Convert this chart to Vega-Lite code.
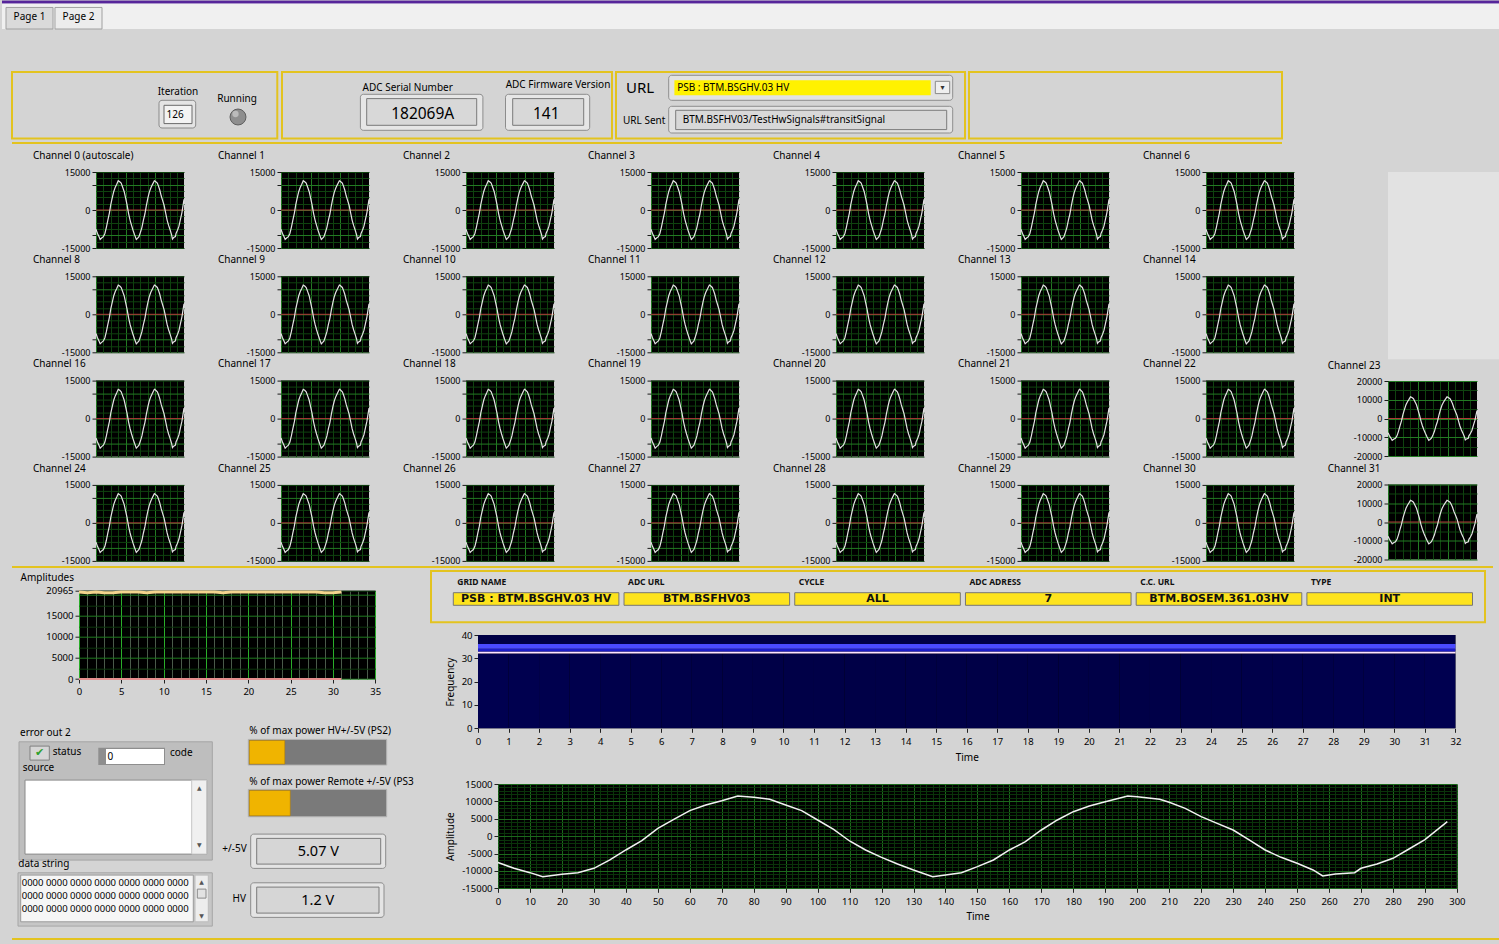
{
"$schema": "https://vega.github.io/schema/vega-lite/v6.json",
"background": "#d4d4d4",
"padding": 0,
"spacing": 0,
"config": {"view": {"stroke": null}, "font": "Noto Sans", "axis": {"labelFont": "Noto Sans", "titleFont": "Noto Sans", "labelColor": "#000000", "titleColor": "#000000", "titleFontWeight": "normal", "tickColor": "#222222", "labelOverlap": false}, "text": {"color": "#000000"}},
"datasets": {
"header": [{"id":"iter","w":"Iteration","value":"126"},{"id":"run","w":"Running","value":"off"},{"id":"serial","w":"ADC Serial Number","value":"182069A"},{"id":"fw","w":"ADC Firmware Version","value":"141"},{"id":"url","w":"URL","value":"PSB : BTM.BSGHV.03 HV"},{"id":"sent","w":"URL Sent","value":"BTM.BSFHV03/TestHwSignals#transitSignal"}],
"chlabels": [{"Channel 0 (autoscale)":"Channel 0 (autoscale)","Channel 1":"Channel 1","Channel 2":"Channel 2","Channel 3":"Channel 3","Channel 4":"Channel 4","Channel 5":"Channel 5","Channel 6":"Channel 6","Channel 8":"Channel 8","Channel 9":"Channel 9","Channel 10":"Channel 10","Channel 11":"Channel 11","Channel 12":"Channel 12","Channel 13":"Channel 13","Channel 14":"Channel 14","Channel 16":"Channel 16","Channel 17":"Channel 17","Channel 18":"Channel 18","Channel 19":"Channel 19","Channel 20":"Channel 20","Channel 21":"Channel 21","Channel 22":"Channel 22","Channel 23":"Channel 23","Channel 24":"Channel 24","Channel 25":"Channel 25","Channel 26":"Channel 26","Channel 27":"Channel 27","Channel 28":"Channel 28","Channel 29":"Channel 29","Channel 30":"Channel 30","Channel 31":"Channel 31"}],
"wave": [{"t":0,"v":-7600},{"t":5,"v":-9250},{"t":10,"v":-10500},{"t":14,"v":-11650},{"t":20,"v":-10970},{"t":25,"v":-10500},{"t":30,"v":-9250},{"t":35,"v":-6850},{"t":40,"v":-3980},{"t":45,"v":-1300},{"t":50,"v":2250},{"t":55,"v":4840},{"t":60,"v":7330},{"t":65,"v":8960},{"t":70,"v":10200},{"t":75,"v":11550},{"t":80,"v":11170},{"t":85,"v":10590},{"t":90,"v":8960},{"t":95,"v":7330},{"t":100,"v":4650},{"t":105,"v":1960},{"t":110,"v":-1390},{"t":115,"v":-3980},{"t":120,"v":-6090},{"t":125,"v":-8000},{"t":130,"v":-9730},{"t":136,"v":-11650},{"t":140,"v":-11170},{"t":145,"v":-10500},{"t":150,"v":-8770},{"t":155,"v":-6850},{"t":160,"v":-3980},{"t":165,"v":-1580},{"t":170,"v":1770},{"t":175,"v":4650},{"t":180,"v":7040},{"t":185,"v":8670},{"t":190,"v":9920},{"t":197,"v":11550},{"t":200,"v":11360},{"t":207,"v":10590},{"t":210,"v":9730},{"t":215,"v":8000},{"t":220,"v":5610},{"t":225,"v":3690},{"t":230,"v":1770},{"t":235,"v":-1100},{"t":240,"v":-3980},{"t":245,"v":-6090},{"t":250,"v":-7810},{"t":255,"v":-9730},{"t":258,"v":-11460},{"t":262,"v":-10880},{"t":268,"v":-10500},{"t":270,"v":-9250},{"t":275,"v":-8000},{"t":280,"v":-6370},{"t":285,"v":-3700},{"t":290,"v":-1000},{"t":297,"v":4170}],
"amp": [{"ch":0,"amp":20650,"min":0},{"ch":1,"amp":20480,"min":0},{"ch":2,"amp":20650,"min":0},{"ch":3,"amp":20480,"min":0},{"ch":4,"amp":20480,"min":0},{"ch":5,"amp":20650,"min":0},{"ch":6,"amp":20650,"min":0},{"ch":7,"amp":20650,"min":0},{"ch":8,"amp":20480,"min":0},{"ch":9,"amp":20650,"min":0},{"ch":10,"amp":20650,"min":0},{"ch":11,"amp":20650,"min":0},{"ch":12,"amp":20650,"min":0},{"ch":13,"amp":20650,"min":0},{"ch":14,"amp":20650,"min":0},{"ch":15,"amp":20650,"min":0},{"ch":16,"amp":20650,"min":0},{"ch":17,"amp":20480,"min":0},{"ch":18,"amp":20650,"min":0},{"ch":19,"amp":20650,"min":0},{"ch":20,"amp":20650,"min":0},{"ch":21,"amp":20650,"min":0},{"ch":22,"amp":20650,"min":0},{"ch":23,"amp":20650,"min":0},{"ch":24,"amp":20650,"min":0},{"ch":25,"amp":20650,"min":0},{"ch":26,"amp":20650,"min":0},{"ch":27,"amp":20650,"min":0},{"ch":28,"amp":20650,"min":0},{"ch":29,"amp":20480,"min":0},{"ch":30,"amp":20480,"min":0},{"ch":31,"amp":20650,"min":0}],
"spectrum": [{"t0":0,"t1":1,"f0":0,"f1":32.1,"p":0.24},{"t0":1,"t1":2,"f0":0,"f1":32.1,"p":0.22},{"t0":2,"t1":3,"f0":0,"f1":32.1,"p":0.2},{"t0":3,"t1":4,"f0":0,"f1":32.1,"p":0.17},{"t0":4,"t1":5,"f0":0,"f1":32.1,"p":0.14},{"t0":5,"t1":6,"f0":0,"f1":32.1,"p":0.11},{"t0":6,"t1":7,"f0":0,"f1":32.1,"p":0.08},{"t0":7,"t1":8,"f0":0,"f1":32.1,"p":0.06},{"t0":8,"t1":9,"f0":0,"f1":32.1,"p":0.045},{"t0":9,"t1":10,"f0":0,"f1":32.1,"p":0.035},{"t0":10,"t1":11,"f0":0,"f1":32.1,"p":0.03},{"t0":11,"t1":12,"f0":0,"f1":32.1,"p":0.025},{"t0":12,"t1":13,"f0":0,"f1":32.1,"p":0.02},{"t0":13,"t1":14,"f0":0,"f1":32.1,"p":0.02},{"t0":14,"t1":15,"f0":0,"f1":32.1,"p":0.02},{"t0":15,"t1":16,"f0":0,"f1":32.1,"p":0.02},{"t0":16,"t1":17,"f0":0,"f1":32.1,"p":0.02},{"t0":17,"t1":18,"f0":0,"f1":32.1,"p":0.02},{"t0":18,"t1":19,"f0":0,"f1":32.1,"p":0.02},{"t0":19,"t1":20,"f0":0,"f1":32.1,"p":0.025},{"t0":20,"t1":21,"f0":0,"f1":32.1,"p":0.03},{"t0":21,"t1":22,"f0":0,"f1":32.1,"p":0.035},{"t0":22,"t1":23,"f0":0,"f1":32.1,"p":0.045},{"t0":23,"t1":24,"f0":0,"f1":32.1,"p":0.06},{"t0":24,"t1":25,"f0":0,"f1":32.1,"p":0.08},{"t0":25,"t1":26,"f0":0,"f1":32.1,"p":0.1},{"t0":26,"t1":27,"f0":0,"f1":32.1,"p":0.12},{"t0":27,"t1":28,"f0":0,"f1":32.1,"p":0.14},{"t0":28,"t1":29,"f0":0,"f1":32.1,"p":0.17},{"t0":29,"t1":30,"f0":0,"f1":32.1,"p":0.2},{"t0":30,"t1":31,"f0":0,"f1":32.1,"p":0.22},{"t0":31,"t1":32,"f0":0,"f1":32.1,"p":0.24},{"t0":0,"t1":32,"f0":32.1,"f1":32.9,"p":1},{"t0":0,"t1":32,"f0":32.9,"f1":34.1,"p":0.62},{"t0":0,"t1":32,"f0":34.1,"f1":36.1,"p":0.85},{"t0":0,"t1":32,"f0":36.1,"f1":40,"p":0}],
"grid": [{"col":"GRID NAME","val":"PSB : BTM.BSGHV.03 HV"},{"col":"ADC URL","val":"BTM.BSFHV03"},{"col":"CYCLE","val":"ALL"},{"col":"ADC ADRESS","val":"7"},{"col":"C.C. URL","val":"BTM.BOSEM.361.03HV"},{"col":"TYPE","val":"INT"}],
"widgets": [{"id":"err","w":"error out 2"},{"id":"status","w":"status","value":"✔"},{"id":"code","w":"code","value":"0"},{"id":"source","w":"source","value":""},{"id":"data","w":"data string","value":"0000 0000 0000 0000 0000 0000 0000\n0000 0000 0000 0000 0000 0000 0000\n0000 0000 0000 0000 0000 0000 0000"},{"id":"ps2","w":"% of max power HV+/-5V (PS2)","pct":26},{"id":"ps3","w":"% of max power Remote +/-5V (PS3","pct":30},{"id":"v5","w":"+/-5V","value":"5.07 V"},{"id":"hv","w":"HV","value":"1.2 V"}]
},
"vconcat": [
{
 "width": 1499, "height": 28,
 "view": {"fill": "#f0f0f0", "stroke": null},
 "data": {"values": [{"tab": "Page 1"}, {"tab": "Page 2"}]},
 "layer": [
  {"mark": {"type": "rule", "color": "#56259a", "strokeWidth": 2.5},
   "encoding": {"y": {"datum": 1.25, "type": "quantitative", "scale": {"domain": [0, 1.3], "nice": false, "zero": false}, "axis": null}}},
  {"mark": {"type": "rect", "stroke": "#a0a0a0", "strokeWidth": 1},
   "encoding": {
     "x": {"field": "tab", "type": "nominal", "scale": {"type": "band", "domain": ["Page 1", "Page 2"], "range": [4, 100], "paddingInner": 0.04, "paddingOuter": 0}, "axis": null},
     "y": {"datum": 1, "type": "quantitative", "axis": null}, "y2": {"datum": 0},
     "fill": {"field": "tab", "type": "nominal", "scale": {"domain": ["Page 1", "Page 2"], "range": ["#dadada", "#ececec"]}, "legend": null}}},
  {"mark": {"type": "text", "fontSize": 10, "color": "#000000"},
   "encoding": {"x": {"field": "tab", "type": "nominal", "axis": null}, "y": {"datum": 0.55, "type": "quantitative", "axis": null}, "text": {"field": "tab"}}}
 ]
},
{"width": 1, "height": 40.7, "data": {"values": []}, "mark": "point"},
{
 "hconcat": [
  {"width": 7, "height": 1, "data": {"values": []}, "mark": "point"},
  {
   "width": 265.3, "height": 66.6,
   "view": {"fill": "#d4d4d4", "stroke": "#e3c31f", "strokeWidth": 2},
   "data": {"name": "header"},
   "layer": [
    {"transform": [{"filter": "datum.id === 'iter'"}], "mark": {"type": "text", "fontSize": 10},
     "encoding": {"x": {"datum": 166, "type": "quantitative", "scale": {"domain": [0, 265.3], "nice": false, "zero": false}, "axis": null}, "y": {"datum": 20, "type": "quantitative", "scale": {"domain": [0, 66.6], "nice": false, "zero": false, "reverse": true}, "axis": null}, "text": {"field": "w"}}},
    {"transform": [{"filter": "datum.id === 'iter'"}], "mark": {"type": "rect", "fill": "#e4e4e4", "stroke": "#8a8a8a", "cornerRadius": 3},
     "encoding": {"x": {"datum": 147, "axis": null}, "x2": {"datum": 183.7}, "y": {"datum": 28.3, "axis": null}, "y2": {"datum": 56}}},
    {"transform": [{"filter": "datum.id === 'iter'"}], "mark": {"type": "rect", "fill": "#f3f3f3", "stroke": "#6a6a6a"},
     "encoding": {"x": {"datum": 152, "axis": null}, "x2": {"datum": 180}, "y": {"datum": 33.3, "axis": null}, "y2": {"datum": 51.6}}},
    {"transform": [{"filter": "datum.id === 'iter'"}], "mark": {"type": "text", "fontSize": 10, "align": "left"},
     "encoding": {"x": {"datum": 154.5, "axis": null}, "y": {"datum": 42.5, "axis": null}, "text": {"field": "value"}}},
    {"transform": [{"filter": "datum.id === 'run'"}], "mark": {"type": "text", "fontSize": 10},
     "encoding": {"x": {"datum": 225, "axis": null}, "y": {"datum": 26.6, "axis": null}, "text": {"field": "w"}}},
    {"transform": [{"filter": "datum.id === 'run'"}], "mark": {"type": "circle", "size": 254, "opacity": 1, "stroke": "#5e5e5e", "strokeWidth": 1, "color": "#8e8e8e"},
     "encoding": {"x": {"datum": 226, "axis": null}, "y": {"datum": 45, "axis": null}}},
    {"transform": [{"filter": "datum.id === 'run'"}], "mark": {"type": "circle", "size": 40, "opacity": 0.6, "color": "#d8d8d8"},
     "encoding": {"x": {"datum": 223.5, "axis": null}, "y": {"datum": 42, "axis": null}}}
   ]
  },
  {
   "width": 330, "height": 66.6,
   "view": {"fill": "#d4d4d4", "stroke": "#e3c31f", "strokeWidth": 2},
   "data": {"name": "header"},
   "layer": [
    {"transform": [{"filter": "datum.id === 'serial'"}], "mark": {"type": "text", "fontSize": 10},
     "encoding": {"x": {"datum": 125.7, "type": "quantitative", "scale": {"domain": [0, 330], "nice": false, "zero": false}, "axis": null}, "y": {"datum": 15.6, "type": "quantitative", "scale": {"domain": [0, 66.6], "nice": false, "zero": false, "reverse": true}, "axis": null}, "text": {"field": "w"}}},
    {"transform": [{"filter": "datum.id === 'serial'"}], "mark": {"type": "rect", "fill": "#e6e6e6", "stroke": "#8c8c8c", "cornerRadius": 3},
     "encoding": {"x": {"datum": 78.4, "axis": null}, "x2": {"datum": 200.9}, "y": {"datum": 22.3, "axis": null}, "y2": {"datum": 58.3}}},
    {"transform": [{"filter": "datum.id === 'serial'"}], "mark": {"type": "rect", "fill": "#d8d8d8", "stroke": "#7a7a7a"},
     "encoding": {"x": {"datum": 84.7, "axis": null}, "x2": {"datum": 194.7}, "y": {"datum": 26.6, "axis": null}, "y2": {"datum": 53.3}}},
    {"transform": [{"filter": "datum.id === 'serial'"}], "mark": {"type": "text", "fontSize": 15.5},
     "encoding": {"x": {"datum": 140.7, "axis": null}, "y": {"datum": 41.6, "axis": null}, "text": {"field": "value"}}},
    {"transform": [{"filter": "datum.id === 'fw'"}], "mark": {"type": "text", "fontSize": 10},
     "encoding": {"x": {"datum": 276, "axis": null}, "y": {"datum": 13.3, "axis": null}, "text": {"field": "w"}}},
    {"transform": [{"filter": "datum.id === 'fw'"}], "mark": {"type": "rect", "fill": "#e6e6e6", "stroke": "#8c8c8c", "cornerRadius": 3},
     "encoding": {"x": {"datum": 223.5, "axis": null}, "x2": {"datum": 307.7}, "y": {"datum": 22.3, "axis": null}, "y2": {"datum": 58.3}}},
    {"transform": [{"filter": "datum.id === 'fw'"}], "mark": {"type": "rect", "fill": "#d8d8d8", "stroke": "#7a7a7a"},
     "encoding": {"x": {"datum": 230.7, "axis": null}, "x2": {"datum": 301.7}, "y": {"datum": 26.6, "axis": null}, "y2": {"datum": 53.3}}},
    {"transform": [{"filter": "datum.id === 'fw'"}], "mark": {"type": "text", "fontSize": 15.5},
     "encoding": {"x": {"datum": 264.2, "axis": null}, "y": {"datum": 41.6, "axis": null}, "text": {"field": "value"}}}
   ]
  },
  {
   "width": 349, "height": 66.6,
   "view": {"fill": "#d4d4d4", "stroke": "#e3c31f", "strokeWidth": 2},
   "data": {"name": "header"},
   "layer": [
    {"transform": [{"filter": "datum.id === 'url'"}], "mark": {"type": "text", "fontSize": 15},
     "encoding": {"x": {"datum": 24, "type": "quantitative", "scale": {"domain": [0, 349], "nice": false, "zero": false}, "axis": null}, "y": {"datum": 16.3, "type": "quantitative", "scale": {"domain": [0, 66.6], "nice": false, "zero": false, "reverse": true}, "axis": null}, "text": {"field": "w"}}},
    {"transform": [{"filter": "datum.id === 'url'"}], "mark": {"type": "rect", "fill": "#e2e2e2", "stroke": "#8e8e8e", "cornerRadius": 3},
     "encoding": {"x": {"datum": 52.7, "axis": null}, "x2": {"datum": 336.7}, "y": {"datum": 3.3, "axis": null}, "y2": {"datum": 28.3}}},
    {"transform": [{"filter": "datum.id === 'url'"}], "mark": {"type": "rect", "fill": "#fff200"},
     "encoding": {"x": {"datum": 58.4, "axis": null}, "x2": {"datum": 314.7}, "y": {"datum": 8.3, "axis": null}, "y2": {"datum": 23.3}}},
    {"transform": [{"filter": "datum.id === 'url'"}], "mark": {"type": "rect", "fill": "#efefef", "stroke": "#8a8a8a"},
     "encoding": {"x": {"datum": 319.3, "axis": null}, "x2": {"datum": 333.7}, "y": {"datum": 9.3, "axis": null}, "y2": {"datum": 21.6}}},
    {"transform": [{"filter": "datum.id === 'url'"}], "mark": {"type": "text", "fontSize": 8, "font": "DejaVu Sans", "color": "#333333", "text": "▾"},
     "encoding": {"x": {"datum": 326.5, "axis": null}, "y": {"datum": 15.6, "axis": null}}},
    {"transform": [{"filter": "datum.id === 'url'"}], "mark": {"type": "text", "fontSize": 10, "align": "left"},
     "encoding": {"x": {"datum": 61.2, "axis": null}, "y": {"datum": 15.8, "axis": null}, "text": {"field": "value"}}},
    {"transform": [{"filter": "datum.id === 'sent'"}], "mark": {"type": "text", "fontSize": 10},
     "encoding": {"x": {"datum": 28.2, "axis": null}, "y": {"datum": 49, "axis": null}, "text": {"field": "w"}}},
    {"transform": [{"filter": "datum.id === 'sent'"}], "mark": {"type": "rect", "fill": "#e2e2e2", "stroke": "#8e8e8e", "cornerRadius": 3},
     "encoding": {"x": {"datum": 52.7, "axis": null}, "x2": {"datum": 336.7}, "y": {"datum": 34.3, "axis": null}, "y2": {"datum": 61}}},
    {"transform": [{"filter": "datum.id === 'sent'"}], "mark": {"type": "rect", "fill": "#d8d8d8", "stroke": "#7c7c7c"},
     "encoding": {"x": {"datum": 59.7, "axis": null}, "x2": {"datum": 330.7}, "y": {"datum": 38.3, "axis": null}, "y2": {"datum": 57.6}}},
    {"transform": [{"filter": "datum.id === 'sent'"}], "mark": {"type": "text", "fontSize": 10, "align": "left"},
     "encoding": {"x": {"datum": 66.7, "axis": null}, "y": {"datum": 48, "axis": null}, "text": {"field": "value"}}}
   ]
  },
  {"width": 313, "height": 66.6, "view": {"fill": "#d4d4d4", "stroke": "#e3c31f", "strokeWidth": 2}, "data": {"values": []}, "mark": "point"}
 ],
 "spacing": 2
},
{"width": 1, "height": 2, "data": {"values": []}, "mark": "point"},
{"hconcat": [
  {"width": 9, "height": 2, "data": {"values": []}, "mark": "point"},
  {"width": 1270, "height": 2, "view": {"fill": "#e3c31f", "stroke": null}, "data": {"values": []}, "mark": "point"}
 ], "spacing": 1},
{"width": 1, "height": 5.2, "data": {"values": []}, "mark": "point"},
{
 "hconcat": [
  {"width": 1, "height": 1, "data": {"values": []}, "mark": "point"},
  {
   "repeat": ["Channel 0 (autoscale)","Channel 1","Channel 2","Channel 3","Channel 4","Channel 5","Channel 6","Channel 8","Channel 9","Channel 10","Channel 11","Channel 12","Channel 13","Channel 14","Channel 16","Channel 17","Channel 18","Channel 19","Channel 20","Channel 21","Channel 22","Channel 24","Channel 25","Channel 26","Channel 27","Channel 28","Channel 29","Channel 30"],
   "columns": 7,
   "spacing": {"row": 1.3, "column": 31},
   "spec": {
    "width": 88, "height": 76,
    "view": {"fill": "#000000", "stroke": null},
    "layer": [
     {"data": {"name": "chlabels"}, "mark": {"type": "rule", "color": "#b03838", "strokeWidth": 1},
      "encoding": {"y": {"datum": 0, "type": "quantitative", "axis": {"values": [-15000,-12500,-10000,-7500,-5000,-2500,0,2500,5000,7500,10000,12500,15000], "title": null, "domain": false, "tickSize": 4, "tickColor": "#1a1a1a", "tickOpacity": {"condition": {"test": "datum.value % 10000 === 0 || abs(datum.value) === 15000", "value": 1}, "value": 0}, "labelExpr": "abs(datum.value) === 15000 || datum.value === 0 ? '' + datum.value : ''", "labelFontSize": 9, "labelPadding": 2, "labelOverlap": false, "labelFlush": false, "grid": true, "gridColor": {"condition": {"test": "datum.value % 10000 === 0", "value": "#237a23"}, "value": "#0f420f"}}}}},
     {"data": {"name": "wave"}, "mark": {"type": "line", "color": "#e4e4e4", "strokeWidth": 1.2},
      "encoding": {
       "x": {"field": "t", "type": "quantitative", "scale": {"domain": [0, 297], "nice": false, "zero": false}, "axis": {"values": [0,25,50,75,100,125,150,175,200,225,250,275], "labels": false, "ticks": false, "domain": false, "title": null, "grid": true, "gridColor": {"condition": {"test": "datum.value % 100 === 0", "value": "#237a23"}, "value": "#0f420f"}}},
       "y": {"field": "v", "type": "quantitative", "scale": {"domain": [-15000, 15000], "nice": false, "zero": false}, "axis": {"values": [-15000,-12500,-10000,-7500,-5000,-2500,0,2500,5000,7500,10000,12500,15000], "title": null, "domain": false, "tickSize": 4, "tickColor": "#1a1a1a", "tickOpacity": {"condition": {"test": "datum.value % 10000 === 0 || abs(datum.value) === 15000", "value": 1}, "value": 0}, "labelExpr": "abs(datum.value) === 15000 || datum.value === 0 ? '' + datum.value : ''", "labelFontSize": 9, "labelPadding": 2, "labelOverlap": false, "labelFlush": false, "grid": true, "gridColor": {"condition": {"test": "datum.value % 10000 === 0", "value": "#237a23"}, "value": "#0f420f"}}}}},
     {"data": {"name": "chlabels"}, "mark": {"type": "text", "align": "left", "baseline": "middle", "fontSize": 10, "color": "#000000"},
      "encoding": {"x": {"datum": -212.6, "type": "quantitative", "axis": {"values": [0,25,50,75,100,125,150,175,200,225,250,275], "labels": false, "ticks": false, "domain": false, "title": null, "grid": true, "gridColor": {"condition": {"test": "datum.value % 100 === 0", "value": "#237a23"}, "value": "#0f420f"}}}, "y": {"datum": 21400, "type": "quantitative", "axis": {"values": [-15000,-12500,-10000,-7500,-5000,-2500,0,2500,5000,7500,10000,12500,15000], "title": null, "domain": false, "tickSize": 4, "tickColor": "#1a1a1a", "tickOpacity": {"condition": {"test": "datum.value % 10000 === 0 || abs(datum.value) === 15000", "value": 1}, "value": 0}, "labelExpr": "abs(datum.value) === 15000 || datum.value === 0 ? '' + datum.value : ''", "labelFontSize": 9, "labelPadding": 2, "labelOverlap": false, "labelFlush": false, "grid": true, "gridColor": {"condition": {"test": "datum.value % 10000 === 0", "value": "#237a23"}, "value": "#0f420f"}}}, "text": {"field": {"repeat": "repeat"}, "type": "nominal"}}}
    ]
   }
  },
  {
   "vconcat": [
    {"width": 113, "height": 187.3, "view": {"fill": "#e2e2e2", "stroke": null}, "data": {"values": []}, "mark": "point"},
    {
     "repeat": ["Channel 23", "Channel 31"],
     "columns": 1,
     "spacing": {"row": 2.5, "column": 10},
     "spec": {
      "width": 89, "height": 75,
      "view": {"fill": "#000000", "stroke": null},
      "layer": [
       {"data": {"name": "chlabels"}, "mark": {"type": "rule", "color": "#b03838", "strokeWidth": 1},
        "encoding": {"y": {"datum": 0, "type": "quantitative", "axis": {"values": [-20000,-15000,-10000,-5000,0,5000,10000,15000,20000], "title": null, "domain": false, "tickSize": 4, "tickColor": "#1a1a1a", "tickOpacity": {"condition": {"test": "datum.value % 10000 === 0", "value": 1}, "value": 0}, "labelExpr": "datum.value % 10000 === 0 ? '' + datum.value : ''", "labelFontSize": 9, "labelPadding": 2, "labelOverlap": false, "labelFlush": false, "grid": true, "gridColor": {"condition": {"test": "datum.value % 10000 === 0", "value": "#237a23"}, "value": "#0f420f"}}}}},
       {"data": {"name": "wave"}, "mark": {"type": "line", "color": "#e4e4e4", "strokeWidth": 1.2},
        "encoding": {
         "x": {"field": "t", "type": "quantitative", "scale": {"domain": [0, 297], "nice": false, "zero": false}, "axis": {"values": [0,25,50,75,100,125,150,175,200,225,250,275], "labels": false, "ticks": false, "domain": false, "title": null, "grid": true, "gridColor": {"condition": {"test": "datum.value % 100 === 0", "value": "#237a23"}, "value": "#0f420f"}}},
         "y": {"field": "v", "type": "quantitative", "scale": {"domain": [-20000, 20000], "nice": false, "zero": false}, "axis": {"values": [-20000,-15000,-10000,-5000,0,5000,10000,15000,20000], "title": null, "domain": false, "tickSize": 4, "tickColor": "#1a1a1a", "tickOpacity": {"condition": {"test": "datum.value % 10000 === 0", "value": 1}, "value": 0}, "labelExpr": "datum.value % 10000 === 0 ? '' + datum.value : ''", "labelFontSize": 9, "labelPadding": 2, "labelOverlap": false, "labelFlush": false, "grid": true, "gridColor": {"condition": {"test": "datum.value % 10000 === 0", "value": "#237a23"}, "value": "#0f420f"}}}}},
       {"data": {"name": "chlabels"}, "mark": {"type": "text", "align": "left", "baseline": "middle", "fontSize": 10, "color": "#000000"},
        "encoding": {"x": {"datum": -201.2, "type": "quantitative", "axis": {"values": [0,25,50,75,100,125,150,175,200,225,250,275], "labels": false, "ticks": false, "domain": false, "title": null, "grid": true, "gridColor": {"condition": {"test": "datum.value % 100 === 0", "value": "#237a23"}, "value": "#0f420f"}}}, "y": {"datum": 28200, "type": "quantitative", "axis": {"values": [-20000,-15000,-10000,-5000,0,5000,10000,15000,20000], "title": null, "domain": false, "tickSize": 4, "tickColor": "#1a1a1a", "tickOpacity": {"condition": {"test": "datum.value % 10000 === 0", "value": 1}, "value": 0}, "labelExpr": "datum.value % 10000 === 0 ? '' + datum.value : ''", "labelFontSize": 9, "labelPadding": 2, "labelOverlap": false, "labelFlush": false, "grid": true, "gridColor": {"condition": {"test": "datum.value % 10000 === 0", "value": "#237a23"}, "value": "#0f420f"}}}, "text": {"field": {"repeat": "repeat"}, "type": "nominal"}}}
      ]
     }
    }
   ],
   "spacing": 0
  }
 ],
 "spacing": 30
},
{"hconcat": [
  {"width": 9, "height": 2, "data": {"values": []}, "mark": "point"},
  {"width": 1481, "height": 2, "view": {"fill": "#e3c31f", "stroke": null}, "data": {"values": []}, "mark": "point"}
 ], "spacing": 1},
{"width": 1, "height": 1.6, "data": {"values": []}, "mark": "point"},
{
 "hconcat": [
  {"width": 5, "height": 1, "data": {"values": []}, "mark": "point"},
  {
   "vconcat": [
    {"width": 0.5, "height": 0.5, "data": {"values": []}, "mark": "point"},
    {"hconcat": [
     {"width": 1.5, "height": 0.5, "data": {"values": []}, "mark": "point"},
     {
      "width": 296.3, "height": 88.3,
      "title": {"text": "Amplitudes", "anchor": "start", "frame": "group", "dx": -58.4, "offset": 3, "fontSize": 10, "fontWeight": "normal", "color": "#000000"},
      "view": {"fill": "#000000", "stroke": null},
      "data": {"name": "amp"},
      "layer": [
       {"mark": {"type": "line", "color": "#e69090", "strokeWidth": 2},
        "encoding": {
         "x": {"field": "ch", "type": "quantitative", "scale": {"domain": [0, 35], "nice": false, "zero": false}, "axis": {"title": null, "tickCount": 35, "labelExpr": "datum.value % 5 === 0 ? datum.label : ''", "tickOpacity": {"condition": {"test": "datum.value % 5 === 0", "value": 1}, "value": 0}, "grid": true, "gridColor": {"condition": {"test": "datum.value % 5 === 0", "value": "#2aae2a"}, "value": "#4a5a4a"}, "domain": false, "tickSize": 4, "labelPadding": 3, "labelFontSize": 9.5, "labelOverlap": false, "labelFlush": false}},
         "y": {"field": "min", "type": "quantitative", "scale": {"domain": [0, 20965], "nice": false, "zero": false}, "axis": {"title": null, "values": [0,2500,5000,7500,10000,12500,15000,17500,20000,20965], "labelExpr": "datum.value === 20965 || (datum.value % 5000 === 0 && datum.value < 20000) ? '' + datum.value : ''", "tickOpacity": {"condition": {"test": "datum.value === 20965 || (datum.value % 5000 === 0 && datum.value < 20000)", "value": 1}, "value": 0}, "grid": true, "gridColor": {"condition": {"test": "datum.value % 5000 === 0", "value": "#1e7a1e"}, "value": "#0d380d"}, "domain": false, "tickSize": 4, "labelPadding": 2, "labelFontSize": 9.5, "labelOverlap": false, "labelFlush": false}}}},
       {"mark": {"type": "line", "color": "#f3d48e", "strokeWidth": 3},
        "encoding": {
         "x": {"field": "ch", "type": "quantitative", "axis": {"title": null, "tickCount": 35, "labelExpr": "datum.value % 5 === 0 ? datum.label : ''", "tickOpacity": {"condition": {"test": "datum.value % 5 === 0", "value": 1}, "value": 0}, "grid": true, "gridColor": {"condition": {"test": "datum.value % 5 === 0", "value": "#2aae2a"}, "value": "#4a5a4a"}, "domain": false, "tickSize": 4, "labelPadding": 3, "labelFontSize": 9.5, "labelOverlap": false, "labelFlush": false}},
         "y": {"field": "amp", "type": "quantitative", "axis": {"title": null, "values": [0,2500,5000,7500,10000,12500,15000,17500,20000,20965], "labelExpr": "datum.value === 20965 || (datum.value % 5000 === 0 && datum.value < 20000) ? '' + datum.value : ''", "tickOpacity": {"condition": {"test": "datum.value === 20965 || (datum.value % 5000 === 0 && datum.value < 20000)", "value": 1}, "value": 0}, "grid": true, "gridColor": {"condition": {"test": "datum.value % 5000 === 0", "value": "#1e7a1e"}, "value": "#0d380d"}, "domain": false, "tickSize": 4, "labelPadding": 2, "labelFontSize": 9.5, "labelOverlap": false, "labelFlush": false}}}}
      ]
     }
    ], "spacing": 0},
    {"width": 0.5, "height": 2.4, "data": {"values": []}, "mark": "point"},
    {
     "width": 402, "height": 237,
     "data": {"name": "widgets"},
     "layer": [
      {"layer": [
       {"transform": [{"filter": "datum.id === 'err'"}], "mark": {"type": "rect", "fill": "#bebebe", "stroke": "#a4a4a4"},
        "encoding": {"x": {"datum": 1, "type": "quantitative", "scale": {"domain": [0, 402], "nice": false, "zero": false}, "axis": null}, "x2": {"datum": 194.3}, "y": {"datum": 41.7, "type": "quantitative", "scale": {"domain": [0, 237], "nice": false, "zero": false, "reverse": true}, "axis": null}, "y2": {"datum": 160}}},
       {"transform": [{"filter": "datum.id === 'err'"}], "mark": {"type": "text", "fontSize": 10, "align": "left"},
        "encoding": {"x": {"datum": 2, "axis": null}, "y": {"datum": 33.3, "axis": null}, "text": {"field": "w"}}},
       {"transform": [{"filter": "datum.id === 'status'"}], "mark": {"type": "rect", "fill": "#d6d6d6", "stroke": "#808080"},
        "encoding": {"x": {"datum": 12, "axis": null}, "x2": {"datum": 31.3}, "y": {"datum": 46, "axis": null}, "y2": {"datum": 60}}},
       {"transform": [{"filter": "datum.id === 'status'"}], "mark": {"type": "text", "fontSize": 11, "font": "DejaVu Sans", "color": "#2ea02e"},
        "encoding": {"x": {"datum": 21.7, "axis": null}, "y": {"datum": 53.3, "axis": null}, "text": {"field": "value"}}},
       {"transform": [{"filter": "datum.id === 'status'"}], "mark": {"type": "text", "fontSize": 10, "align": "left"},
        "encoding": {"x": {"datum": 34.7, "axis": null}, "y": {"datum": 52.3, "axis": null}, "text": {"field": "w"}}},
       {"transform": [{"filter": "datum.id === 'code'"}], "mark": {"type": "rect", "fill": "#8e8e8e"},
        "encoding": {"x": {"datum": 80.3, "axis": null}, "x2": {"datum": 147}, "y": {"datum": 47.7, "axis": null}, "y2": {"datum": 65}}},
       {"transform": [{"filter": "datum.id === 'code'"}], "mark": {"type": "rect", "fill": "#ffffff"},
        "encoding": {"x": {"datum": 88, "axis": null}, "x2": {"datum": 146}, "y": {"datum": 49, "axis": null}, "y2": {"datum": 64}}},
       {"transform": [{"filter": "datum.id === 'code'"}], "mark": {"type": "text", "fontSize": 10, "align": "left"},
        "encoding": {"x": {"datum": 89.5, "axis": null}, "y": {"datum": 56.5, "axis": null}, "text": {"field": "value"}}},
       {"transform": [{"filter": "datum.id === 'code'"}], "mark": {"type": "text", "fontSize": 10, "align": "left"},
        "encoding": {"x": {"datum": 152, "axis": null}, "y": {"datum": 52.7, "axis": null}, "text": {"field": "w"}}},
       {"transform": [{"filter": "datum.id === 'source'"}], "mark": {"type": "text", "fontSize": 10, "align": "left"},
        "encoding": {"x": {"datum": 4.7, "axis": null}, "y": {"datum": 68.3, "axis": null}, "text": {"field": "w"}}},
       {"transform": [{"filter": "datum.id === 'source'"}], "mark": {"type": "rect", "fill": "#ffffff", "stroke": "#8a8a8a"},
        "encoding": {"x": {"datum": 7, "axis": null}, "x2": {"datum": 188.7}, "y": {"datum": 80, "axis": null}, "y2": {"datum": 154}}},
       {"transform": [{"filter": "datum.id === 'source'"}], "mark": {"type": "rect", "fill": "#f0f0f0", "stroke": "#c4c4c4"},
        "encoding": {"x": {"datum": 173.7, "axis": null}, "x2": {"datum": 188.7}, "y": {"datum": 80, "axis": null}, "y2": {"datum": 154}}},
       {"transform": [{"filter": "datum.id === 'source'"}], "mark": {"type": "text", "fontSize": 6, "font": "DejaVu Sans", "color": "#555555", "text": "▲"},
        "encoding": {"x": {"datum": 181.2, "axis": null}, "y": {"datum": 88.3, "axis": null}}},
       {"transform": [{"filter": "datum.id === 'source'"}], "mark": {"type": "text", "fontSize": 6, "font": "DejaVu Sans", "color": "#555555", "text": "▼"},
        "encoding": {"x": {"datum": 181.2, "axis": null}, "y": {"datum": 145, "axis": null}}},
       {"transform": [{"filter": "datum.id === 'data'"}], "mark": {"type": "text", "fontSize": 10, "align": "left"},
        "encoding": {"x": {"datum": 0.3, "axis": null}, "y": {"datum": 164.3, "axis": null}, "text": {"field": "w"}}},
       {"transform": [{"filter": "datum.id === 'data'"}], "mark": {"type": "rect", "fill": "#c6c6c6", "stroke": "#a6a6a6"},
        "encoding": {"x": {"datum": 0, "axis": null}, "x2": {"datum": 194.3}, "y": {"datum": 172.7, "axis": null}, "y2": {"datum": 226}}},
       {"transform": [{"filter": "datum.id === 'data'"}], "mark": {"type": "rect", "fill": "#f6f6f6", "stroke": "#9a9a9a"},
        "encoding": {"x": {"datum": 2.7, "axis": null}, "x2": {"datum": 175.3}, "y": {"datum": 175, "axis": null}, "y2": {"datum": 221.7}}},
       {"transform": [{"filter": "datum.id === 'data'"}], "mark": {"type": "rect", "fill": "#ededed", "stroke": "#bdbdbd"},
        "encoding": {"x": {"datum": 177, "axis": null}, "x2": {"datum": 190.3}, "y": {"datum": 175, "axis": null}, "y2": {"datum": 221.7}}},
       {"transform": [{"filter": "datum.id === 'data'"}], "mark": {"type": "rect", "fill": "#e2e2e2", "stroke": "#8a8a8a"},
        "encoding": {"x": {"datum": 179.3, "axis": null}, "x2": {"datum": 188}, "y": {"datum": 189, "axis": null}, "y2": {"datum": 198}}},
       {"transform": [{"filter": "datum.id === 'data'"}], "mark": {"type": "text", "fontSize": 6, "font": "DejaVu Sans", "color": "#555555", "text": "▲"},
        "encoding": {"x": {"datum": 183.65, "axis": null}, "y": {"datum": 181.7, "axis": null}}},
       {"transform": [{"filter": "datum.id === 'data'"}], "mark": {"type": "text", "fontSize": 6, "font": "DejaVu Sans", "color": "#555555", "text": "▼"},
        "encoding": {"x": {"datum": 183.65, "axis": null}, "y": {"datum": 215.7, "axis": null}}},
       {"transform": [{"filter": "datum.id === 'data'"}], "mark": {"type": "text", "fontSize": 9.5, "align": "left", "baseline": "top", "lineBreak": "\n", "lineHeight": 13.3},
        "encoding": {"x": {"datum": 3.7, "axis": null}, "y": {"datum": 177.5, "axis": null}, "text": {"field": "value"}}},
       {"transform": [{"filter": "datum.id === 'ps2'"}], "mark": {"type": "text", "fontSize": 10, "align": "left"},
        "encoding": {"x": {"datum": 231.3, "axis": null}, "y": {"datum": 31, "axis": null}, "text": {"field": "w"}}},
       {"transform": [{"filter": "datum.id === 'ps2'"}], "mark": {"type": "rect", "fill": "#7a7a7a", "stroke": "#b5b5b5"},
        "encoding": {"x": {"datum": 230.3, "axis": null}, "x2": {"datum": 368.7}, "y": {"datum": 39.3, "axis": null}, "y2": {"datum": 65}}},
       {"transform": [{"filter": "datum.id === 'ps3'"}], "mark": {"type": "text", "fontSize": 10, "align": "left"},
        "encoding": {"x": {"datum": 231.3, "axis": null}, "y": {"datum": 81.7, "axis": null}, "text": {"field": "w"}}},
       {"transform": [{"filter": "datum.id === 'ps3'"}], "mark": {"type": "rect", "fill": "#7a7a7a", "stroke": "#b5b5b5"},
        "encoding": {"x": {"datum": 230.3, "axis": null}, "x2": {"datum": 368.7}, "y": {"datum": 89.3, "axis": null}, "y2": {"datum": 116.7}}},
       {"transform": [{"filter": "datum.id === 'v5'"}], "mark": {"type": "text", "fontSize": 10, "align": "right"},
        "encoding": {"x": {"datum": 228.7, "axis": null}, "y": {"datum": 149, "axis": null}, "text": {"field": "w"}}},
       {"transform": [{"filter": "datum.id === 'v5'"}], "mark": {"type": "rect", "fill": "#e4e4e4", "stroke": "#8c8c8c", "cornerRadius": 3},
        "encoding": {"x": {"datum": 232.7, "axis": null}, "x2": {"datum": 367.7}, "y": {"datum": 134, "axis": null}, "y2": {"datum": 168.3}}},
       {"transform": [{"filter": "datum.id === 'v5'"}], "mark": {"type": "rect", "fill": "#d6d6d6", "stroke": "#7c7c7c"},
        "encoding": {"x": {"datum": 238.7, "axis": null}, "x2": {"datum": 362.7}, "y": {"datum": 138.3, "axis": null}, "y2": {"datum": 164}}},
       {"transform": [{"filter": "datum.id === 'v5'"}], "mark": {"type": "text", "fontSize": 14.5},
        "encoding": {"x": {"datum": 300.3, "axis": null}, "y": {"datum": 151.7, "axis": null}, "text": {"field": "value"}}},
       {"transform": [{"filter": "datum.id === 'hv'"}], "mark": {"type": "text", "fontSize": 10, "align": "right"},
        "encoding": {"x": {"datum": 228, "axis": null}, "y": {"datum": 199, "axis": null}, "text": {"field": "w"}}},
       {"transform": [{"filter": "datum.id === 'hv'"}], "mark": {"type": "rect", "fill": "#e4e4e4", "stroke": "#8c8c8c", "cornerRadius": 3},
        "encoding": {"x": {"datum": 232.7, "axis": null}, "x2": {"datum": 366}, "y": {"datum": 182.7, "axis": null}, "y2": {"datum": 217.3}}},
       {"transform": [{"filter": "datum.id === 'hv'"}], "mark": {"type": "rect", "fill": "#d6d6d6", "stroke": "#7c7c7c"},
        "encoding": {"x": {"datum": 238.7, "axis": null}, "x2": {"datum": 361}, "y": {"datum": 187, "axis": null}, "y2": {"datum": 213}}},
       {"transform": [{"filter": "datum.id === 'hv'"}], "mark": {"type": "text", "fontSize": 14.5},
        "encoding": {"x": {"datum": 299.7, "axis": null}, "y": {"datum": 201.3, "axis": null}, "text": {"field": "value"}}}
      ]},
      {"layer": [
       {"transform": [{"filter": "datum.id === 'ps2'"}], "mark": {"type": "rect", "fill": "#f0b400", "stroke": "#b07800", "strokeWidth": 0.5},
        "encoding": {"x": {"field": "pct", "type": "quantitative", "scale": {"domain": [-169.58, 125.14], "nice": false, "zero": false}, "axis": null}, "x2": {"datum": 0}, "y": {"datum": 40.3, "axis": null}, "y2": {"datum": 64}}},
       {"transform": [{"filter": "datum.id === 'ps3'"}], "mark": {"type": "rect", "fill": "#f0b400", "stroke": "#b07800", "strokeWidth": 0.5},
        "encoding": {"x": {"field": "pct", "type": "quantitative", "axis": null}, "x2": {"datum": 0}, "y": {"datum": 90.3, "axis": null}, "y2": {"datum": 115.7}}}
      ]}
     ],
     "resolve": {"scale": {"x": "independent"}}
    }
   ],
   "spacing": 0.7
  },
  {
   "vconcat": [
    {
     "width": 1054, "height": 51.3,
     "view": {"fill": "#d7d7d7", "stroke": "#e3c31f", "strokeWidth": 2},
     "data": {"name": "grid"},
     "layer": [
      {"mark": {"type": "rect", "fill": "#fde31d", "stroke": "#767676", "strokeWidth": 1},
       "encoding": {"x": {"field": "col", "type": "nominal", "sort": null, "scale": {"type": "band", "domain": ["GRID NAME","ADC URL","CYCLE","ADC ADRESS","C.C. URL","TYPE"], "range": [22.3, 1041.5], "paddingInner": 0.03, "paddingOuter": 0}, "axis": null},
                    "y": {"datum": 21.7, "type": "quantitative", "scale": {"domain": [0, 51.3], "nice": false, "zero": false, "reverse": true}, "axis": null}, "y2": {"datum": 34.3}}},
      {"mark": {"type": "text", "align": "left", "dx": 4, "fontSize": 8.5, "fontWeight": "bold", "color": "#111111"},
       "encoding": {"x": {"field": "col", "type": "nominal", "bandPosition": 0, "axis": null}, "y": {"datum": 11, "type": "quantitative", "axis": null}, "text": {"field": "col"}}},
      {"mark": {"type": "text", "align": "center", "fontSize": 11, "fontWeight": "bold", "font": "DejaVu Sans", "color": "#111111"},
       "encoding": {"x": {"field": "col", "type": "nominal", "axis": null}, "y": {"datum": 28, "type": "quantitative", "axis": null}, "text": {"field": "val"}}}
     ]
    },
    {
     "hconcat": [
      {"width": 13, "height": 1, "data": {"values": []}, "mark": "point"},
      {
       "vconcat": [
        {"hconcat": [
         {"width": 0.5, "height": 0.5, "data": {"values": []}, "mark": "point"},
         {
          "width": 977.4, "height": 93.3,
          "view": {"fill": "#000000", "stroke": null},
          "data": {"name": "spectrum"},
          "mark": {"type": "rect"},
          "encoding": {
           "x": {"field": "t0", "type": "quantitative", "scale": {"domain": [0, 32], "nice": false, "zero": false}, "axis": {"title": "Time", "tickCount": 32, "grid": false, "domain": false, "tickSize": 4, "labelPadding": 4, "labelFontSize": 9.5, "titleFontSize": 10, "titlePadding": 7, "labelOverlap": false, "labelFlush": false}},
           "x2": {"field": "t1"},
           "y": {"field": "f0", "type": "quantitative", "scale": {"domain": [0, 40], "nice": false, "zero": false}, "axis": {"title": "Frequency", "values": [0, 10, 20, 30, 40], "grid": false, "domain": false, "tickSize": 4, "labelPadding": 2, "labelFontSize": 9.5, "titleFontSize": 10, "titlePadding": 6}},
           "y2": {"field": "f1"},
           "color": {"field": "p", "type": "quantitative", "scale": {"domain": [0, 0.25, 0.62, 0.85, 1], "range": ["#000000", "#000050", "#1c1cc8", "#4a4aff", "#ffffff"]}, "legend": null}
          }
         }
        ], "spacing": 0},
        {"hconcat": [
         {"width": 0.5, "height": 0.5, "data": {"values": []}, "mark": "point"},
         {
          "width": 958.9, "height": 104.3,
          "view": {"fill": "#000000", "stroke": null},
          "data": {"name": "wave"},
          "mark": {"type": "line", "color": "#f2f2f2", "strokeWidth": 1.5},
          "encoding": {
           "x": {"field": "t", "type": "quantitative", "scale": {"domain": [0, 300], "nice": false, "zero": false}, "axis": {"title": "Time", "tickCount": 150, "labelExpr": "datum.value % 10 === 0 ? datum.label : ''", "tickOpacity": {"condition": {"test": "datum.value % 10 === 0", "value": 1}, "value": 0}, "grid": true, "gridColor": {"condition": {"test": "datum.value % 10 === 0", "value": "#1c681c"}, "value": "#0a340a"}, "domain": false, "tickSize": 4, "labelPadding": 4, "labelFontSize": 9.5, "titleFontSize": 10, "titlePadding": 6, "labelOverlap": false, "labelFlush": false}},
           "y": {"field": "v", "type": "quantitative", "scale": {"domain": [-15000, 15000], "nice": false, "zero": false}, "axis": {"title": "Amplitude", "tickCount": 30, "labelExpr": "datum.value % 5000 === 0 ? '' + datum.value : ''", "tickOpacity": {"condition": {"test": "datum.value % 5000 === 0", "value": 1}, "value": 0}, "grid": true, "gridColor": {"condition": {"test": "datum.value % 5000 === 0", "value": "#1c681c"}, "value": "#0a340a"}, "domain": false, "tickSize": 4, "labelPadding": 2, "labelFontSize": 9.5, "titleFontSize": 10, "titlePadding": 6, "labelOverlap": false, "labelFlush": false}}
          }
         }
        ], "spacing": 0}
       ],
       "spacing": 16
      }
     ],
     "spacing": 0
    }
   ],
   "spacing": 6
  }
 ],
 "spacing": 10
},
{"hconcat": [
  {"width": 9, "height": 2, "data": {"values": []}, "mark": "point"},
  {"width": 1489, "height": 2, "view": {"fill": "#e3c31f", "stroke": null}, "data": {"values": []}, "mark": "point"}
 ], "spacing": 1},
{"width": 1, "height": 5, "data": {"values": []}, "mark": "point"}
]
}
